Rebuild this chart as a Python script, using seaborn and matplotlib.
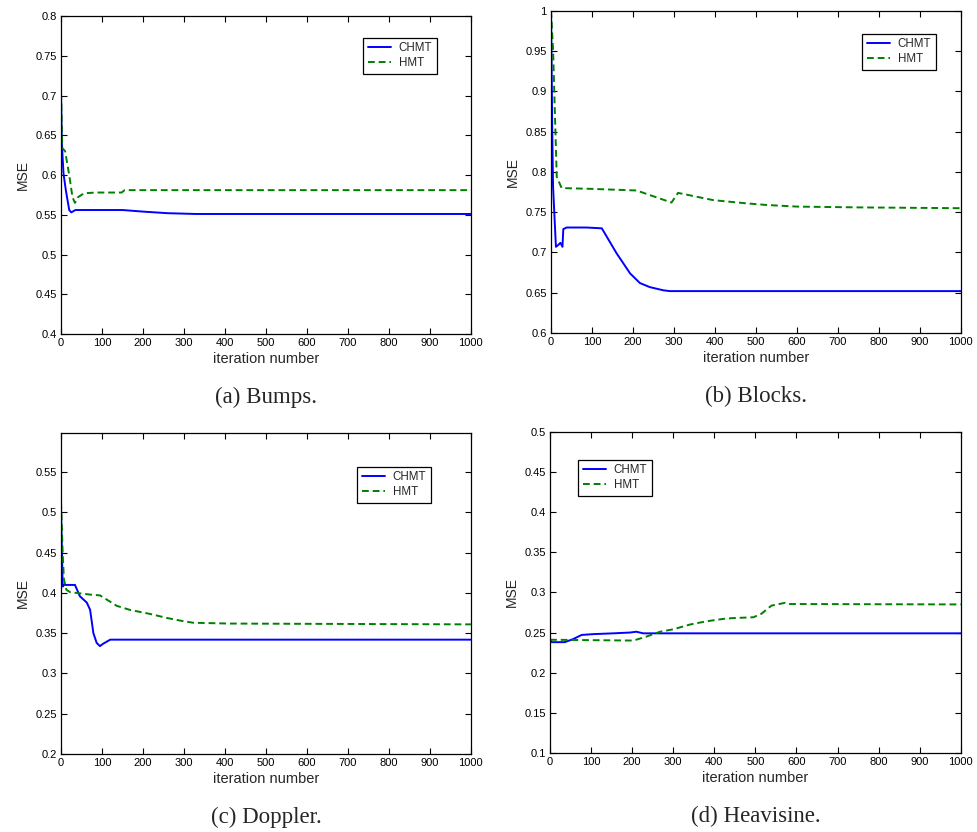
import pandas as pd
import seaborn as sns
import matplotlib.pyplot as plt
from matplotlib import ticker

# (a) Bumps
a_chmt_it = [0, 2, 6, 12, 20, 25, 35, 50, 150, 200, 260, 330, 1000]
a_chmt = [0.70, 0.64, 0.602, 0.58, 0.556, 0.553, 0.556, 0.556, 0.556, 0.554, 0.552, 0.551, 0.551]
a_hmt_it = [0, 3, 10, 20, 28, 34, 41, 56, 84, 148, 155, 1000]
a_hmt = [0.703, 0.634, 0.63, 0.60, 0.572, 0.565, 0.572, 0.577, 0.578, 0.578, 0.581, 0.581]

# (b) Blocks
b_chmt_it = [0, 1, 3, 5, 12, 17, 23, 28, 30, 38, 86, 124, 160, 193, 217, 241, 274, 290, 1000]
b_chmt = [1.0, 0.956, 0.852, 0.782, 0.707, 0.709, 0.712, 0.707, 0.729, 0.731, 0.731, 0.730, 0.699,
          0.674, 0.662, 0.657, 0.653, 0.652, 0.652]
b_hmt_it = [0, 5, 14, 26, 100, 209, 294, 310, 396, 477, 526, 600, 750, 1000]
b_hmt = [1.0, 0.952, 0.794, 0.780, 0.779, 0.777, 0.762, 0.774, 0.765, 0.761, 0.759, 0.757, 0.756, 0.755]

# (c) Doppler
c_chmt_it = [0, 4, 7, 34, 46, 63, 71, 79, 87, 95, 103, 120, 165, 1000]
c_chmt = [0.504, 0.408, 0.41, 0.41, 0.396, 0.388, 0.379, 0.35, 0.338, 0.334, 0.337, 0.342, 0.342, 0.342]
c_hmt_it = [0, 4, 7, 13, 22, 71, 95, 111, 136, 168, 217, 258, 298, 323, 412, 1000]
c_hmt = [0.512, 0.45, 0.417, 0.404, 0.401, 0.398, 0.397, 0.392, 0.384, 0.379, 0.374, 0.369, 0.365,
         0.363, 0.362, 0.361]

# (d) Heavisine
d_chmt_it = [0, 4, 36, 57, 77, 105, 154, 195, 210, 227, 1000]
d_chmt = [0.241, 0.238, 0.238, 0.242, 0.247, 0.248, 0.249, 0.250, 0.251, 0.249, 0.249]
d_hmt_it = [0, 203, 235, 268, 300, 341, 381, 422, 446, 495, 515, 527, 539, 572, 584, 1000]
d_hmt = [0.241, 0.240, 0.245, 0.251, 0.254, 0.260, 0.264, 0.267, 0.268, 0.269, 0.2735, 0.2785,
         0.2835, 0.287, 0.2855, 0.285]

captions = ['(a) Bumps.', '(b) Blocks.', '(c) Doppler.', '(d) Heavisine.']
ylims = [(0.4, 0.8), (0.6, 1.0), (0.2, 0.599), (0.1, 0.5)]
yticks = [[0.4 + 0.05 * i for i in range(9)], [0.6 + 0.05 * i for i in range(9)],
          [0.2 + 0.05 * i for i in range(8)], [0.1 + 0.05 * i for i in range(9)]]

sns.set_style('ticks')
plt.rcParams['font.family'] = ['Liberation Sans', 'DejaVu Sans']

fig = plt.figure(figsize=(9.78, 8.32), dpi=100)
positions = [[0.0624, 0.5986, 0.419, 0.382], [0.5634, 0.5998, 0.419, 0.387],
             [0.0624, 0.0938, 0.419, 0.386], [0.5624, 0.0950, 0.420, 0.386]]
legend_anchor = [(0.737, 0.932), (0.759, 0.929), (0.722, 0.894), (0.068, 0.913)]
data = [(a_chmt_it, a_chmt, a_hmt_it, a_hmt), (b_chmt_it, b_chmt, b_hmt_it, b_hmt),
        (c_chmt_it, c_chmt, c_hmt_it, c_hmt), (d_chmt_it, d_chmt, d_hmt_it, d_hmt)]

for i in range(4):
    ax = fig.add_axes(positions[i])
    x1, y1, x2, y2 = data[i]
    df1 = pd.DataFrame({'it': x1, 'mse': y1})
    df2 = pd.DataFrame({'it': x2, 'mse': y2})
    sns.lineplot(data=df1, x='it', y='mse', ax=ax, color='#0000ff', lw=1.4,
                 estimator=None, sort=False, label='CHMT')
    sns.lineplot(data=df2, x='it', y='mse', ax=ax, color='#008000', lw=1.4, ls='--',
                 dashes=False, estimator=None, sort=False, label='HMT')
    ax.lines[1].set_linestyle((0, (3.5, 2)))
    ax.set_xlim(0, 1000)
    ax.set_ylim(*ylims[i])
    ax.set_xticks(range(0, 1001, 100))
    ax.set_yticks(yticks[i])
    ax.yaxis.set_major_formatter(ticker.FuncFormatter(lambda v, p: '%g' % round(v, 3)))
    ax.tick_params(direction='in', top=True, right=True, labelsize=8, length=4, width=0.8,
                   pad=3, colors='black')
    for s in ax.spines.values():
        s.set_linewidth(0.9)
        s.set_color('black')
    ax.set_xlabel('iteration number', fontsize=10.5, labelpad=3)
    ax.set_ylabel('MSE', fontsize=10, labelpad=4)
    leg = ax.legend(loc='upper left', bbox_to_anchor=legend_anchor[i], fontsize=8.3,
                    frameon=True, fancybox=False, framealpha=1, edgecolor='black',
                    handlelength=2.0, borderpad=0.4, labelspacing=0.25, handletextpad=0.7,
                    borderaxespad=0)
    leg.get_frame().set_linewidth(0.9)
    fig.text(positions[i][0] + positions[i][2] / 2, positions[i][1] - 0.0829, captions[i],
             ha='center', va='baseline', fontsize=16.5,
             family=['Liberation Serif', 'DejaVu Serif'])

fig.savefig('out.png', dpi=100)
